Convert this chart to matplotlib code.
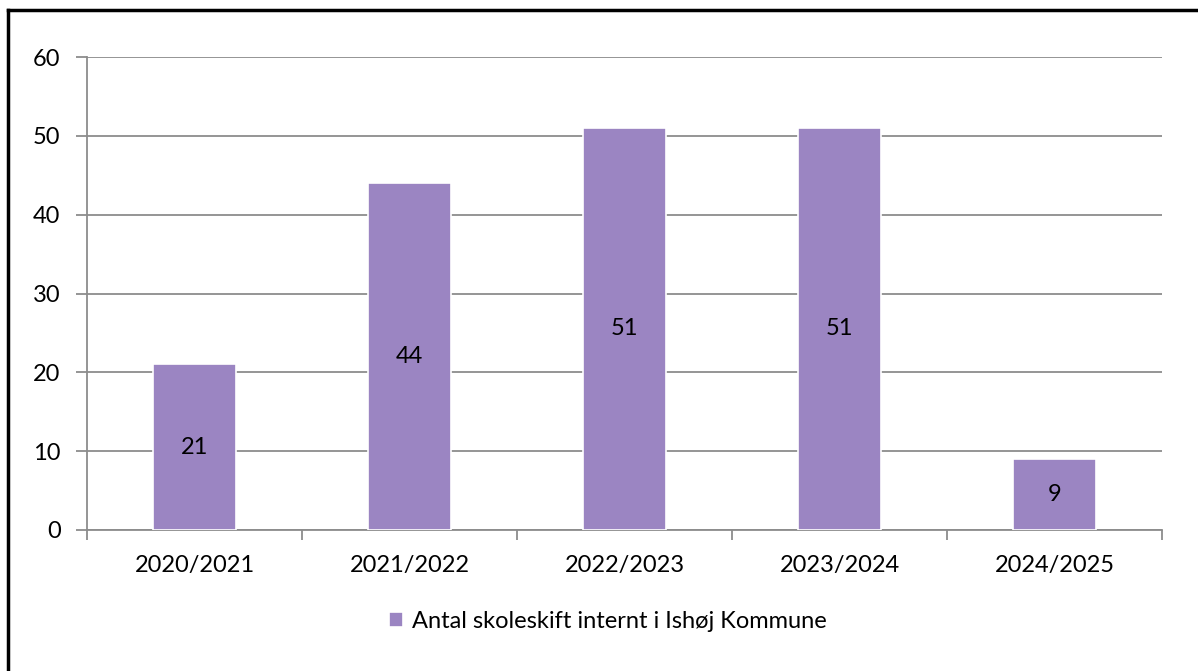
import numpy as np
import matplotlib.pyplot as plt
from matplotlib.lines import Line2D

# data
years = ['2020/2021', '2021/2022', '2022/2023', '2023/2024', '2024/2025']
skoleskift = [21, 44, 51, 51, 9]
series_name = 'Antal skoleskift internt i Ishøj Kommune'

plt.rcParams['font.family'] = ['Lato', 'DejaVu Sans']
fs = 17

W, H = 1198, 671
fig = plt.figure(figsize=(W / 100, H / 100), dpi=100)
ax = fig.add_axes([87 / W, 1 - 530 / H, (1162 - 87) / W, (530 - 57) / H])

x = np.arange(len(years))
bars = ax.bar(x, skoleskift, width=0.39, color='#9b85c2', edgecolor='white',
              linewidth=1.2, zorder=3)
for b, v in zip(bars, skoleskift):
    ax.text(b.get_x() + b.get_width() / 2, v / 2, str(v), ha='center', va='center',
            fontsize=fs, color='black', zorder=4)

ax.set_xlim(-0.5, len(years) - 0.5)
ax.set_ylim(0, 60)
ax.set_yticks(range(0, 61, 10))
ax.yaxis.grid(True, color='#8c8c8c', linewidth=1.3, zorder=0)
ax.set_axisbelow(True)

ax.set_xticks(x)
ax.set_xticklabels(years, fontsize=fs)
ax.set_xticks(np.arange(-0.5, len(years)), minor=True)
ax.tick_params(axis='x', which='major', length=0, pad=18)
ax.tick_params(axis='x', which='minor', length=7, color='#8c8c8c', width=1.3)
ax.tick_params(axis='y', length=8, color='#8c8c8c', width=1.3, labelsize=fs, pad=11)

for s in ['top', 'right']:
    ax.spines[s].set_visible(False)
for s in ['left', 'bottom']:
    ax.spines[s].set_color('#8c8c8c')
    ax.spines[s].set_linewidth(1.3)

leg = fig.legend([bars], [series_name], loc='center', bbox_to_anchor=(608 / W, 1 - 621 / H),
                 frameon=False, fontsize=fs, handlelength=0.6, handleheight=0.6,
                 handletextpad=0.4)

# outer frame (top and left edge only)
fig.add_artist(Line2D([8 / W, 1], [1 - 10 / H, 1 - 10 / H], color='black', linewidth=2.5,
                      transform=fig.transFigure))
fig.add_artist(Line2D([8 / W, 8 / W], [0, 1 - 10 / H], color='black', linewidth=2.5,
                      transform=fig.transFigure))

fig.savefig('out.png', dpi=100)
